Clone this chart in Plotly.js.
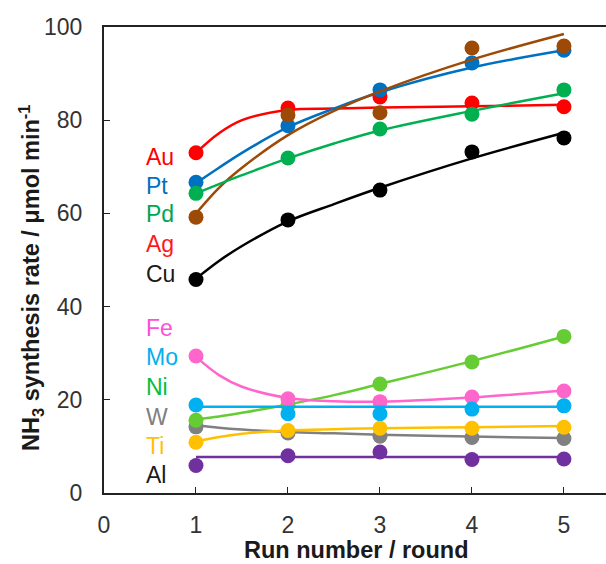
<!DOCTYPE html>
<html>
<head>
<meta charset="utf-8">
<script src="https://cdn.plot.ly/plotly-3.0.1.min.js"></script>
<style>
  html, body { margin: 0; padding: 0; background: #fff; }
  #chart { width: 606px; height: 564px; }
</style>
</head>
<body>
<div id="chart"></div>
<script>
// Run numbers for the measured points
const runs = [1, 2, 3, 4, 5];

// Measured NH3 synthesis rates (µmol min^-1) per metal
const Au = [73.0, 82.6, 85.0, 83.7, 82.9];
const Pt = [66.7, 78.8, 86.5, 92.3, 95.0];
const Pd = [64.3, 71.9, 78.1, 81.3, 86.5];
const Ag = [59.2, 81.1, 81.6, 95.5, 95.9];
const Cu = [45.8, 58.6, 65.0, 73.2, 76.2];
const Fe = [29.4, 20.2, 19.6, 20.6, 21.9];
const Mo = [18.9, 17.0, 17.0, 18.0, 18.7];
const Ni = [15.6, 18.8, 23.4, 28.1, 33.6];
const W  = [14.2, 12.9, 12.2, 11.9, 11.7];
const Ti = [10.9, 13.4, 13.9, 13.9, 14.1];
const Al = [5.9, 8.0, 8.8, 7.2, 7.3];

// Trend curves, sampled along the run axis
const fitX  = [1, 1.25, 1.5, 2, 2.5, 3, 4, 5];
const AuFit = [73.0, 77.2, 80.0, 82.2, 82.5, 82.7, 83.0, 83.3];
const PtFit = [66.5, 69.8, 73.0, 78.5, 82.5, 86.0, 91.3, 95.0];
const PdFit = [64.3, 66.3, 68.2, 71.8, 75.0, 77.8, 82.0, 85.8];
const AgFit = [60.0, 65.5, 69.8, 76.8, 82.0, 86.2, 93.0, 98.5];
const CuFit = [46.0, 49.8, 53.0, 58.3, 62.0, 65.5, 71.8, 77.3];
const FeFit = [29.2, 25.3, 22.8, 20.4, 19.7, 19.6, 20.5, 22.0];
const MoFit = [18.5, 18.5, 18.5, 18.5, 18.5, 18.5, 18.5, 18.5];
const NiFit = [15.8, 16.4, 17.2, 19.0, 21.0, 23.4, 28.3, 33.6];
const WFit  = [14.6, 14.0, 13.6, 13.1, 12.8, 12.5, 12.1, 11.8];
const TiFit = [11.0, 12.0, 12.7, 13.4, 13.7, 13.9, 14.1, 14.4];
const AlFit = [7.7, 7.7, 7.7, 7.7, 7.7, 7.7, 7.7, 7.7];

// Metal names and label colours
const metals      = ['Au', 'Pt', 'Pd', 'Ag', 'Cu', 'Fe', 'Mo', 'Ni', 'W', 'Ti', 'Al'];
const labelColors = ['#ff0000', '#0070c0', '#00a550', '#ff1a1a', '#1a1a1a',
                     '#ff4fd8', '#00b0f0', '#00c040', '#808080', '#ffc000', '#1a1a1a'];

// Series drawn in this stacking order (later ones on top)
const series = [
  { y: Au, fit: AuFit, color: '#ff0000' },
  { y: Pt, fit: PtFit, color: '#0070c0' },
  { y: Ag, fit: AgFit, color: '#9c4a06' },
  { y: Pd, fit: PdFit, color: '#00b050' },
  { y: Cu, fit: CuFit, color: '#000000' },
  { y: W,  fit: WFit,  color: '#808080' },
  { y: Ni, fit: NiFit, color: '#66cc33' },
  { y: Fe, fit: FeFit, color: '#ff66cc' },
  { y: Mo, fit: MoFit, color: '#00b0f0' },
  { y: Ti, fit: TiFit, color: '#ffc000' },
  { y: Al, fit: AlFit, color: '#7030a0' }
];

const traces = [];
series.forEach(s => {
  traces.push({
    x: fitX, y: s.fit, type: 'scatter', mode: 'lines',
    line: { color: s.color, width: 2.5, shape: 'spline', smoothing: 1 },
    hoverinfo: 'skip', showlegend: false
  });
  traces.push({
    x: runs, y: s.y, type: 'scatter', mode: 'markers',
    marker: { color: s.color, size: 15 },
    showlegend: false
  });
});

const FONT = 'Liberation Sans, Arial, sans-serif';

// Metal labels stacked at the left of the plot
const labelY = [72.0, 65.9, 59.8, 53.5, 47.0, 35.5, 29.2, 22.7, 16.4, 10.0, 3.8];
const annotations = metals.map((m, i) => ({
  x: 0.43, y: labelY[i], xref: 'x', yref: 'y',
  text: m, showarrow: false, xanchor: 'left', yanchor: 'middle',
  font: { family: FONT, size: 23, color: labelColors[i] }
}));

// Axis titles
annotations.push({
  x: -0.145, y: 0.462, xref: 'paper', yref: 'paper',
  text: '<b>NH<sub>3</sub> synthesis rate / μmol min<sup>-1</sup></b>',
  textangle: -90, showarrow: false, xanchor: 'center', yanchor: 'middle',
  font: { family: FONT, size: 23.5, color: '#1a1a1a' }
});
annotations.push({
  x: 0.502, y: -0.122, xref: 'paper', yref: 'paper',
  text: '<b>Run number / round</b>',
  showarrow: false, xanchor: 'center', yanchor: 'middle',
  font: { family: FONT, size: 23.5, color: '#1a1a1a' }
});

const layout = {
  width: 606, height: 564,
  margin: { l: 104, r: 0, t: 27, b: 71 },
  paper_bgcolor: '#ffffff', plot_bgcolor: '#ffffff',
  font: { family: FONT, size: 23, color: '#333333' },
  showlegend: false,
  xaxis: {
    range: [0, 5.457], tickvals: [0, 1, 2, 3, 4, 5],
    ticks: 'inside', ticklen: 6, tickwidth: 1, tickcolor: '#222',
    showline: true, linecolor: '#222', linewidth: 2, mirror: true,
    showgrid: false, zeroline: false,
    ticklabelstandoff: 10,
    tickfont: { family: FONT, size: 23, color: '#333' }
  },
  yaxis: {
    range: [0, 100], tickvals: [0, 20, 40, 60, 80, 100],
    ticks: 'inside', ticklen: 6, tickwidth: 1, tickcolor: '#222',
    showline: true, linecolor: '#222', linewidth: 2,
    showgrid: false, zeroline: false,
    ticklabelstandoff: 15,
    tickfont: { family: FONT, size: 23, color: '#333' }
  },
  annotations: annotations
};

Plotly.newPlot('chart', traces, layout, { displayModeBar: false, staticPlot: true });
</script>
</body>
</html>
